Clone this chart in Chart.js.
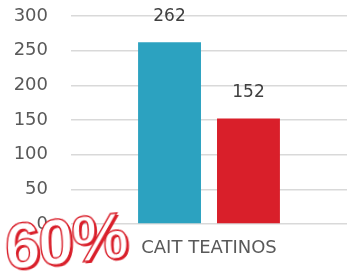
<!DOCTYPE html>
<html lang="es">
<head>
    <meta charset="UTF-8">
    <title>CAIT Teatinos</title>
    <script src="https://cdn.jsdelivr.net/npm/chart.js"></script>
    <style>
        html, body { margin: 0; padding: 0; background: #fff; }
        .caja { position: relative; width: 347px; height: 279px; }
        .sello {
            position: absolute;
            left: 6px;
            top: 216px;
            font: bold 64px "Liberation Sans", Arial, sans-serif;
            color: #fff;
            -webkit-text-stroke: 1.4px #d91f2a;
            text-shadow: 2px 2px 0 #d91f2a;
            transform: rotate(-6deg) skewX(-4deg);
            transform-origin: left bottom;
            line-height: 1;
            letter-spacing: -2px;
        }
    </style>
</head>
<body>
    <div class="caja">
        <canvas id="grafico" width="347" height="279"></canvas>
        <div class="sello">60%</div>
    </div>

    <script>
        // datos
        const categorias = ['CAIT TEATINOS'];
        const serieA = [262];
        const serieB = [152];
        const ticksY = [0, 50, 100, 150, 200, 250, 300];

        // etiquetas de valor encima de cada barra
        const etiquetas = {
            id: 'etiquetas',
            afterDatasetsDraw(chart) {
                const ctx = chart.ctx;
                ctx.save();
                ctx.font = '17px "DejaVu Sans", sans-serif';
                ctx.fillStyle = '#404040';
                ctx.textAlign = 'center';
                ctx.textBaseline = 'middle';
                chart.data.datasets.forEach((ds, i) => {
                    chart.getDatasetMeta(i).data.forEach((bar, j) => {
                        ctx.fillText(ds.data[j], bar.x, bar.y - 26);
                    });
                });
                ctx.restore();
            }
        };

        const ctx = document.getElementById('grafico').getContext('2d');
        new Chart(ctx, {
            type: 'bar',
            data: {
                labels: categorias,
                datasets: [{
                    data: serieA,
                    backgroundColor: '#2ca2c0'
                }, {
                    data: serieB,
                    backgroundColor: '#d91f2a'
                }]
            },
            options: {
                responsive: false,
                animation: false,
                categoryPercentage: 0.572,
                barPercentage: 0.797,
                layout: { padding: { top: 16, right: 0, bottom: 0, left: 0 } },
                plugins: {
                    legend: { display: false },
                    tooltip: { enabled: false }
                },
                scales: {
                    x: {
                        grid: { display: false },
                        border: { display: false },
                        ticks: {
                            padding: 6,
                            color: '#595959',
                            font: { family: 'DejaVu Sans', size: 18 }
                        },
                        afterFit: s => { s.height = 55; }
                    },
                    y: {
                        min: 0,
                        max: 300,
                        afterBuildTicks: s => { s.ticks = ticksY.map(v => ({ value: v })); },
                        // marca invisible para separar las etiquetas del area
                        grid: { color: '#d9d9d9', lineWidth: 1.5, tickLength: 23, tickColor: 'rgba(0,0,0,0)' },
                        border: { display: false },
                        ticks: {
                            padding: 0,
                            color: '#595959',
                            font: { family: 'DejaVu Sans', size: 18 }
                        },
                        afterFit: s => { s.width = 71; }
                    }
                }
            },
            plugins: [etiquetas]
        });
    </script>
</body>
</html>
